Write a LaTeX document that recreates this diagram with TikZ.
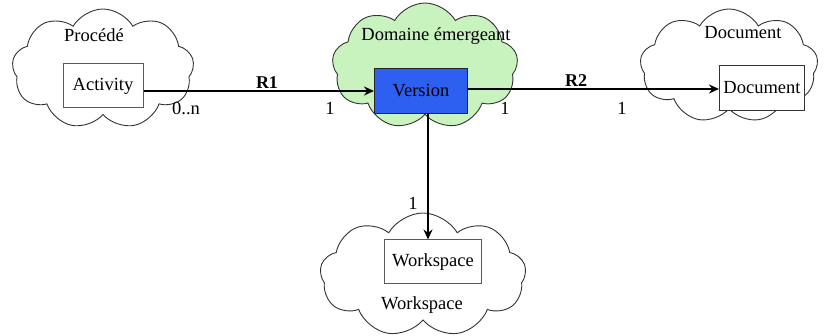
\documentclass[tikz,border=0pt]{standalone}
\usepackage{fontspec}
\setmainfont{Liberation Serif}
\newfontfamily\tms{Liberation Serif}
\usetikzlibrary{shapes.symbols,arrows.meta}
\definecolor{cloudgreen}{RGB}{200,242,190}
\definecolor{verblue}{RGB}{45,95,240}
\tikzset{
  cloudshape/.style={cloud, cloud puffs=9, cloud puff arc=120, draw=black!80, line width=0.9pt, fill=white, inner sep=0pt},
  classbox/.style={draw=black!65, line width=1pt, fill=white, font=\tms\fontsize{18.5}{20}\selectfont, inner sep=0pt},
  lbl/.style={font=\tms\fontsize{18.5}{20}\selectfont, inner sep=0pt},
  rel/.style={line width=1.8pt, -{Stealth[length=10pt,width=9pt]}},
  rellbl/.style={font=\tms\bfseries\fontsize{18}{20}\selectfont, inner sep=0pt}
}
\begin{document}
\begin{tikzpicture}[x=1pt,y=-1pt]
\useasboundingbox (0,0) rectangle (824,336);
% clouds
\node[cloudshape, minimum width=182pt, minimum height=120pt] (cP) at (103,69) {};
\node[cloudshape, fill=cloudgreen, minimum width=186pt, minimum height=126pt] (cD) at (425,66) {};
\node[cloudshape, minimum width=178pt, minimum height=114pt] (cDoc) at (729,66) {};
\node[cloudshape, minimum width=206pt, minimum height=124pt] (cW) at (423,275) {};
% cloud titles
\node[lbl] (tP) at (94,35) {Procédé};
\node[lbl] (tD) at (436,36) {Domaine émergeant};
\node[lbl] (tDoc) at (743,33) {Document};
\node[lbl] (tW) at (422,305) {Workspace};
% boxes
\node[classbox, minimum width=80pt, minimum height=44pt] (act) at (103,86) {Activity};
\node[classbox, draw=black!85, fill=verblue, minimum width=93pt, minimum height=45pt] (ver) at (421,91) {Version};
\node[classbox, draw=black!80, minimum width=85pt, minimum height=45pt] (doc) at (762,88) {Document};
\node[classbox, minimum width=97pt, minimum height=44pt] (ws) at (433,262) {Workspace};
% connectors
\draw[rel] (act.east |- 0,91) -- (ver.west |- 0,91);
\draw[rel] (ver.east |- 0,89) -- (doc.west |- 0,89);
\coordinate (vb) at (428,113.5);
\draw[rel] (vb) -- (vb |- ws.north);
% labels
\node[rellbl] (r1) at (267,83) {R1};
\node[rellbl] (r2) at (576,81) {R2};
\node[lbl] (m1) at (186,108) {0..n};
\node[lbl] (m2) at (330,108) {1};
\node[lbl] (m3) at (505,108) {1};
\node[lbl] (m4) at (622,108) {1};
\node[lbl] (m5) at (413,203) {1};
\end{tikzpicture}
\end{document}
